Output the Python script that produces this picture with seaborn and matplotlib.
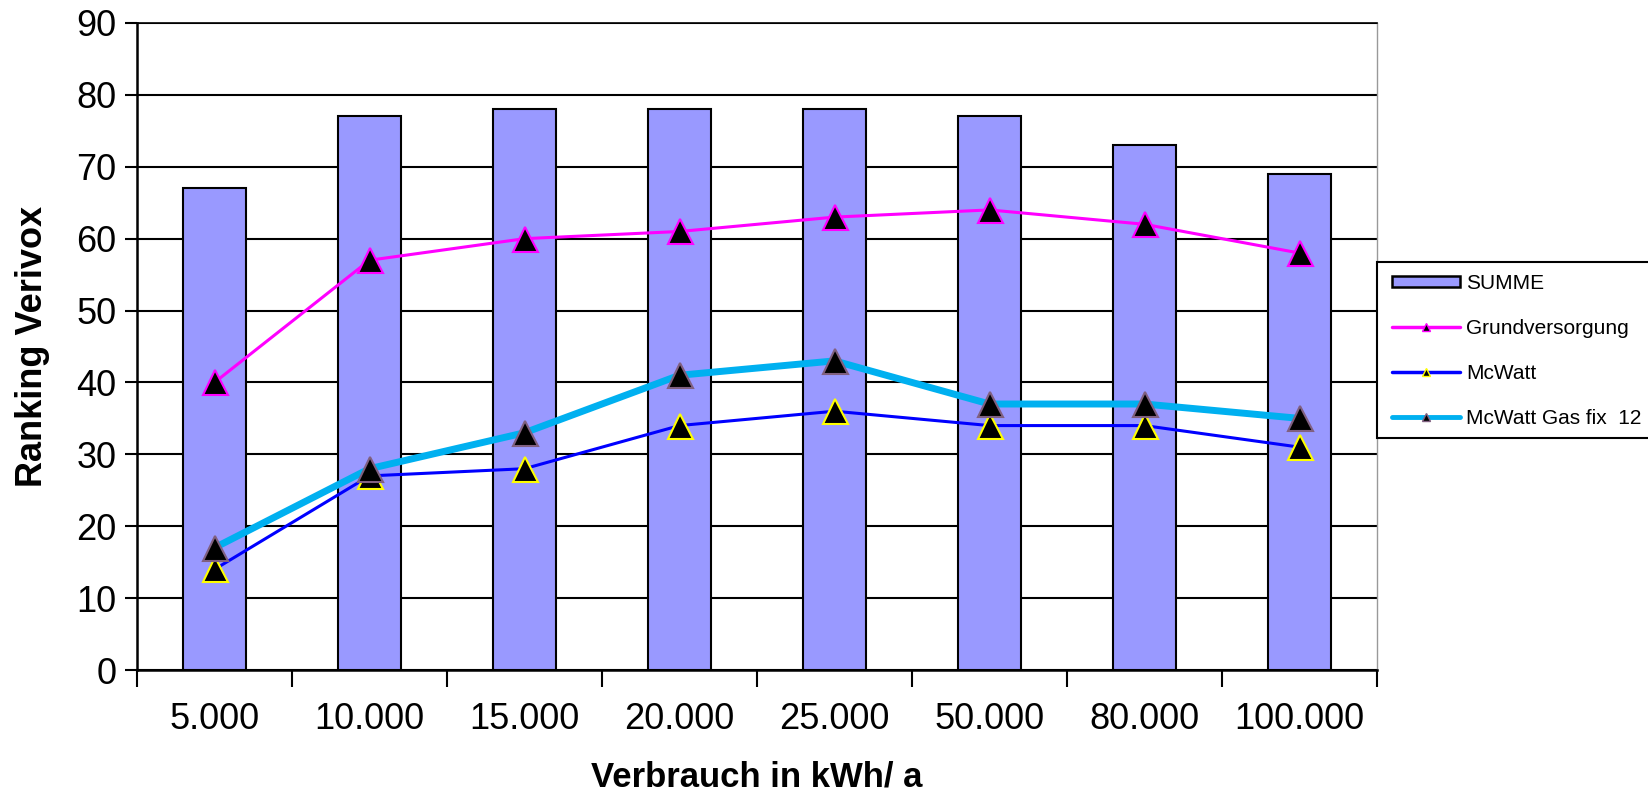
import numpy as np
import pandas as pd
import matplotlib
matplotlib.use("Agg")
import matplotlib.pyplot as plt
import seaborn as sns
from matplotlib.lines import Line2D
from matplotlib.patches import Patch, Rectangle

categories = ["5.000", "10.000", "15.000", "20.000", "25.000", "50.000", "80.000", "100.000"]
summe = [67, 77, 78, 78, 78, 77, 73, 69]
grundversorgung = [40, 57, 60, 61, 63, 64, 62, 58]
mcwatt = [14, 27, 28, 34, 36, 34, 34, 31]
mcwatt_gas = [17, 28, 33, 41, 43, 37, 37, 35]
y_ticks = [0, 10, 20, 30, 40, 50, 60, 70, 80, 90]

sns.set_style("white")
plt.rcParams["font.family"] = ["Liberation Sans", "DejaVu Sans"]
plt.rcParams["text.color"] = "black"
plt.rcParams["axes.labelcolor"] = "black"
plt.rcParams["xtick.color"] = "black"
plt.rcParams["ytick.color"] = "black"

W, H = 1648, 796
fig = plt.figure(figsize=(W / 100, H / 100), dpi=100)
ax = fig.add_axes([137 / W, 1 - 670 / H, 1240 / W, 647 / H])

df = pd.DataFrame({"cat": categories, "SUMME": summe})
sns.barplot(data=df, x="cat", y="SUMME", color="#9999FF", edgecolor="black",
            linewidth=1.5, width=0.41, saturation=1, ax=ax, zorder=2)

idx = np.arange(len(categories))
msz = 18
sns.lineplot(x=idx, y=grundversorgung, color="#FF00FF", lw=2.2, marker="^",
             markersize=msz, markerfacecolor="black", markeredgecolor="#FF00FF",
             markeredgewidth=1.5, ax=ax, zorder=4)
sns.lineplot(x=idx, y=mcwatt, color="#0000FF", lw=2.2, marker="^",
             markersize=msz, markerfacecolor="black", markeredgecolor="#FFFF00",
             markeredgewidth=1.5, ax=ax, zorder=4)
sns.lineplot(x=idx, y=mcwatt_gas, color="#00B0F0", lw=5, marker="^",
             markersize=msz, markerfacecolor="black", markeredgecolor="#806080",
             markeredgewidth=1.5, ax=ax, zorder=5)

ax.set_xlim(-0.5, len(categories) - 0.5)
ax.set_ylim(0, 90)
ax.set_yticks(y_ticks)
ax.yaxis.grid(True, color="black", lw=1.5, zorder=0)
ax.set_axisbelow(True)
ax.tick_params(axis="y", direction="out", length=9, width=1.5, color="black",
               labelsize=26, pad=6, left=True)

ax.set_xticks(np.arange(-0.5, len(categories)), labels=[""] * (len(categories) + 1))
ax.tick_params(axis="x", which="major", direction="out", length=12, width=1.5,
               color="black", bottom=True)
ax.set_xticks(idx, labels=categories, minor=True)
ax.tick_params(axis="x", which="minor", length=0, labelsize=26, pad=23)

for s in ["left", "bottom"]:
    ax.spines[s].set_color("black")
    ax.spines[s].set_linewidth(1.8)
ax.spines["top"].set_color("black")
ax.spines["top"].set_linewidth(1.2)
ax.spines["right"].set_color("#999999")
ax.spines["right"].set_linewidth(1)

ax.set_xlabel("Verbrauch in kWh/ a", fontsize=25, fontweight="bold")
ax.set_ylabel("Ranking Verivox", fontsize=26, fontweight="bold")
ax.xaxis.label.set_va("center")
ax.yaxis.label.set_va("center")
ax.xaxis.set_label_coords(0.5, (670 - 777) / 647)
ax.yaxis.set_label_coords((32 - 137) / 1240, 0.5)

# legend frame (extends past the right edge of the figure, as in the original)
fig.patches.append(Rectangle((1377 / W, 1 - 438 / H), 300 / W, 176 / H,
                             transform=fig.transFigure, facecolor="white",
                             edgecolor="black", linewidth=1.5, zorder=1))

handles = [
    Patch(facecolor="#9999FF", edgecolor="black", linewidth=1.8, label="SUMME"),
    Line2D([], [], color="#FF00FF", lw=2.5, marker="^", markersize=6,
           markerfacecolor="black", markeredgecolor="#FF00FF", label="Grundversorgung"),
    Line2D([], [], color="#0000FF", lw=2.5, marker="^", markersize=6,
           markerfacecolor="black", markeredgecolor="#FFFF00", label="McWatt"),
    Line2D([], [], color="#00B0F0", lw=3.5, marker="^", markersize=6,
           markerfacecolor="black", markeredgecolor="#806080", label="McWatt Gas fix  12"),
]
leg = fig.legend(handles=handles, loc="center left",
                 bbox_to_anchor=(1392 / W, 1 - 351 / H),
                 frameon=False, fontsize=15,
                 handlelength=3.27, handleheight=0.5, labelspacing=1.25,
                 borderpad=0, handletextpad=0.3, borderaxespad=0)
leg.set_zorder(3)

fig.savefig("out.png", dpi=100, facecolor="white")
